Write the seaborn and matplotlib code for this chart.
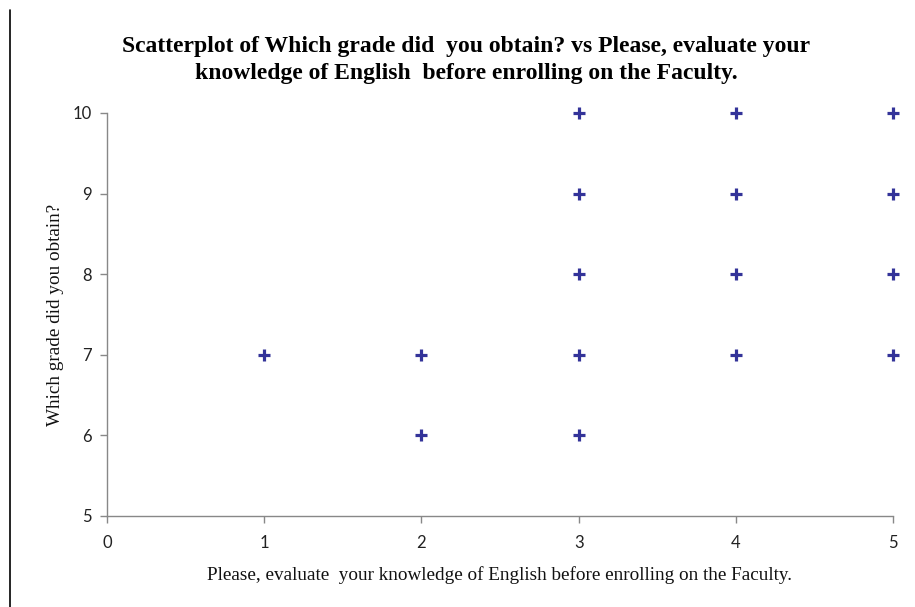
import pandas as pd
import seaborn as sns
import matplotlib.pyplot as plt
from matplotlib.lines import Line2D

# data
english_level = [1, 2, 2, 3, 3, 3, 3, 3, 4, 4, 4, 4, 5, 5, 5, 5]
grade = [7, 7, 6, 10, 9, 8, 7, 6, 10, 9, 8, 7, 10, 9, 8, 7]
x_ticks = [0, 1, 2, 3, 4, 5]
y_ticks = [5, 6, 7, 8, 9, 10]

title = ("Scatterplot of Which grade did  you obtain? vs Please, evaluate your\n"
         "knowledge of English  before enrolling on the Faculty.")
x_label = "Please, evaluate  your knowledge of English before enrolling on the Faculty."
y_label = "Which grade did you obtain?"

df = pd.DataFrame({'english': english_level, 'grade': grade})

sns.set_style('white')
plt.rcParams['font.family'] = ['Liberation Serif', 'DejaVu Serif']

fig = plt.figure(figsize=(9.15, 6.07), dpi=100)
ax = fig.add_axes([107 / 915, 1 - 516 / 607, (893 - 107) / 915, (516 - 113) / 607])

sns.scatterplot(data=df, x='english', y='grade', marker='+', s=75,
                color='#333399', linewidth=2.3, ax=ax, clip_on=False, legend=False)

ax.set_xlim(0, 5)
ax.set_ylim(5, 10)
ax.set_xticks(x_ticks)
ax.set_yticks(y_ticks)
ax.set_xticklabels([str(v) for v in x_ticks], family='Lato', fontsize=12)
ax.set_yticklabels([str(v) for v in y_ticks], family='Lato', fontsize=12)
ax.tick_params(axis='both', direction='out', length=5, width=1, color='#888888',
               labelcolor='#222222', left=True, bottom=True)
ax.tick_params(axis='x', pad=9)
ax.tick_params(axis='y', pad=6)

for side in ['top', 'right']:
    ax.spines[side].set_visible(False)
for side in ['left', 'bottom']:
    ax.spines[side].set_color('#888888')
    ax.spines[side].set_linewidth(1)

ax.set_xlabel(x_label, fontsize=13.8, labelpad=10.5, color='#111111')
ax.set_ylabel(y_label, fontsize=13.8, labelpad=6, color='#111111')

fig.text(466 / 915, 1 - 60 / 607, title, ha='center', va='center',
         fontsize=17, fontweight='bold', linespacing=1.38, color='black')

# page border line at the left
fig.add_artist(Line2D([10 / 915, 10 / 915], [0, 1 - 10 / 607],
                      transform=fig.transFigure, color='black', linewidth=1.2))

fig.savefig('out.png', dpi=100)
